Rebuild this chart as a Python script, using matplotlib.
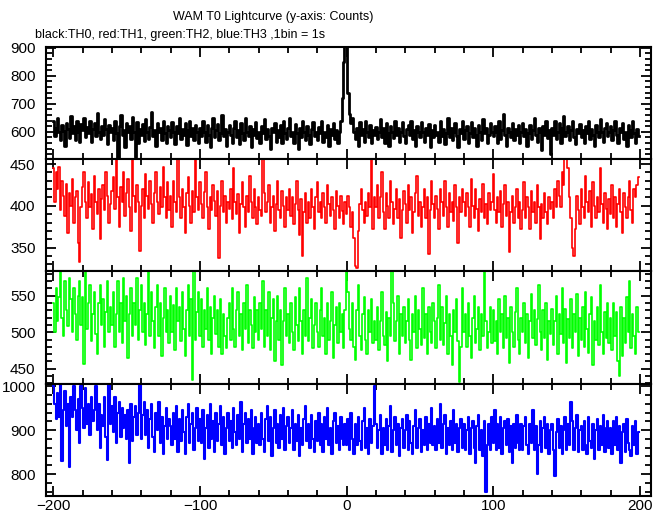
import numpy as np
import matplotlib
matplotlib.use("Agg")
import matplotlib.pyplot as plt
from matplotlib.ticker import MultipleLocator

plt.rcParams['font.family'] = ['Liberation Sans', 'DejaVu Sans']

# time bins (1 bin = 1 s)
time = np.arange(-200, 200)

# TH0 (black)
th0 = [
    640, 585, 612, 650, 598, 570, 625, 603, 548, 632, 610, 578, 655, 596, 620, 572, 640, 600, 565, 628,
    605, 650, 580, 618, 595, 640, 562, 610, 632, 585, 668, 600, 575, 622, 590, 645, 610, 558, 625, 598,
    615, 572, 640, 595, 508, 620, 660, 588, 605, 545, 630, 598, 620, 575, 652, 600, 510, 635, 560, 610,
    590, 628, 566, 645, 600, 575, 618, 670, 585, 607, 550, 632, 598, 615, 570, 640, 595, 560, 622, 605,
    580, 635, 600, 558, 620, 595, 648, 575, 610, 590, 630, 552, 605, 640, 585, 612, 570, 625, 598, 560,
    615, 585, 640, 600, 562, 625, 590, 545, 612, 650, 580, 605, 628, 570, 595, 660, 585, 610, 548, 600,
    625, 590, 560, 612, 640, 580, 605, 555, 630, 595, 572, 648, 600, 585, 620, 545, 610, 590, 635, 578,
    600, 560, 622, 595, 645, 575, 610, 585, 540, 615, 598, 630, 565, 605, 582, 625, 560, 640, 595, 575,
    612, 650, 585, 600, 560, 628, 595, 540, 615, 582, 640, 598, 570, 620, 590, 555, 610, 635, 585, 600,
    570, 618, 595, 640, 565, 600, 582, 625, 548, 610, 590, 632, 575, 605, 560, 598, 640, 720, 850, 960,
    1000, 740, 665, 630, 650, 600, 575, 615, 548, 635, 590, 610, 565, 640, 598, 580, 625, 560, 605, 590,
    618, 575, 600, 645, 580, 612, 560, 630, 595, 548, 622, 600, 578, 640, 590, 615, 565, 600, 635, 585,
    560, 610, 625, 590, 640, 575, 605, 550, 620, 598, 580, 635, 600, 565, 615, 590, 628, 545, 605, 580,
    625, 590, 600, 565, 640, 585, 610, 555, 595, 650, 580, 612, 570, 600, 630, 585, 545, 610, 595, 640,
    575, 605, 620, 560, 595, 635, 580, 612, 590, 548, 625, 600, 570, 645, 595, 612, 560, 588, 630, 600,
    585, 620, 598, 560, 640, 575, 605, 662, 590, 548, 615, 600, 580, 632, 570, 610, 590, 625, 560, 600,
    630, 585, 610, 550, 595, 625, 575, 605, 648, 590, 565, 612, 598, 535, 620, 590, 640, 578, 605, 522,
    615, 590, 640, 575, 600, 630, 560, 612, 655, 585, 598, 620, 570, 605, 640, 582, 555, 610, 595, 628,
    580, 605, 560, 622, 595, 640, 575, 610, 590, 550, 625, 600, 580, 645, 598, 565, 612, 632, 585, 600,
    620, 570, 605, 640, 588, 560, 615, 598, 630, 575, 600, 548, 625, 605, 580, 640, 595, 560, 610, 585,
]

# TH1 (red)
th1 = [
    445, 405, 440, 420, 446, 395, 430, 412, 388, 426, 368, 415, 400, 432, 380, 410, 418, 355, 333, 398,
    422, 440, 405, 385, 428, 398, 414, 372, 436, 405, 390, 420, 360, 408, 425, 395, 440, 412, 380, 402,
    418, 435, 396, 455, 410, 375, 422, 404, 440, 388, 415, 432, 398, 370, 456, 412, 392, 425, 405, 346,
    400, 420, 385, 438, 412, 396, 430, 402, 380, 415, 440, 405, 390, 422, 398, 446, 410, 385, 428, 395,
    412, 375, 430, 404, 392, 456, 410, 386, 420, 398, 368, 415, 435, 400, 380, 418, 392, 456, 410, 395,
    428, 402, 385, 416, 440, 398, 372, 410, 395, 425, 406, 388, 418, 338, 400, 430, 392, 412, 380, 405,
    396, 420, 384, 445, 405, 390, 414, 368, 402, 428, 398, 375, 412, 392, 436, 404, 385, 420, 398, 378,
    410, 395, 388, 456, 415, 392, 405, 425, 380, 398, 412, 370, 402, 430, 395, 385, 418, 400, 375, 410,
    395, 420, 388, 410, 378, 402, 430, 395, 365, 408, 340, 392, 415, 380, 404, 386, 420, 398, 372, 410,
    428, 392, 405, 385, 415, 398, 380, 425, 402, 388, 410, 395, 372, 418, 400, 385, 412, 394, 378, 405,
    390, 412, 398, 375, 392, 362, 328, 325, 370, 402, 420, 395, 380, 405, 388, 415, 398, 456, 372, 410,
    398, 425, 385, 410, 440, 392, 372, 415, 400, 386, 430, 404, 378, 396, 420, 385, 408, 362, 395, 418,
    402, 380, 425, 395, 410, 368, 392, 415, 436, 388, 405, 375, 398, 420, 386, 410, 342, 395, 430, 402,
    385, 412, 396, 372, 420, 405, 388, 430, 398, 375, 415, 392, 405, 382, 425, 398, 356, 410, 392, 420,
    405, 388, 415, 398, 375, 432, 400, 385, 420, 396, 370, 408, 392, 426, 385, 402, 378, 415, 395, 405,
    438, 395, 380, 410, 392, 418, 375, 402, 425, 388, 405, 345, 392, 412, 380, 398, 420, 385, 405, 372,
    395, 428, 386, 410, 398, 372, 418, 392, 405, 380, 425, 398, 360, 402, 385, 415, 392, 378, 410, 396,
    405, 385, 420, 398, 430, 412, 398, 440, 425, 456, 456, 445, 410, 385, 350, 340, 372, 412, 395, 378,
    420, 398, 385, 436, 405, 392, 418, 375, 428, 400, 385, 410, 392, 445, 402, 380, 415, 396, 372, 408,
    390, 425, 385, 410, 375, 402, 420, 392, 368, 415, 398, 385, 410, 430, 395, 380, 420, 410, 425, 435,
]

# TH2 (green)
th2 = [
    540, 500, 560, 515, 548, 584, 520, 495, 570, 530, 508, 575, 545, 500, 560, 525, 490, 550, 570, 510,
    548, 456, 584, 505, 540, 565, 488, 525, 555, 498, 470, 540, 565, 510, 545, 480, 528, 570, 500, 535,
    510, 555, 480, 525, 570, 500, 540, 485, 575, 515, 550, 465, 525, 560, 495, 540, 510, 575, 490, 530,
    565, 500, 540, 482, 525, 584, 495, 555, 515, 478, 535, 565, 495, 540, 468, 520, 560, 500, 530, 485,
    550, 500, 538, 475, 560, 515, 535, 488, 555, 505, 468, 530, 565, 495, 545, 435, 584, 490, 528, 555,
    495, 545, 480, 530, 505, 560, 490, 535, 470, 520, 550, 498, 530, 480, 545, 470, 525, 495, 478, 520,
    540, 490, 560, 505, 480, 530, 555, 495, 525, 475, 540, 505, 565, 485, 530, 510, 478, 548, 500, 530,
    490, 540, 505, 570, 480, 530, 495, 555, 475, 520, 545, 460, 515, 550, 490, 530, 455, 515, 560, 495,
    525, 485, 540, 500, 475, 548, 510, 488, 560, 515, 470, 530, 495, 575, 488, 520, 545, 478, 510, 540,
    500, 480, 530, 560, 495, 520, 470, 540, 490, 515, 555, 465, 510, 535, 485, 540, 500, 525, 478, 530,
    584, 555, 505, 490, 540, 480, 462, 530, 565, 495, 475, 525, 548, 490, 470, 530, 500, 545, 485, 515,
    490, 535, 475, 515, 555, 495, 482, 528, 460, 520, 495, 584, 540, 488, 515, 550, 470, 525, 495, 535,
    485, 515, 545, 490, 462, 525, 500, 550, 478, 530, 505, 482, 560, 492, 525, 470, 535, 500, 485, 540,
    515, 478, 520, 565, 490, 535, 482, 512, 550, 470, 525, 495, 455, 530, 500, 545, 488, 432, 480, 560,
    500, 525, 480, 540, 495, 465, 520, 550, 485, 505, 535, 475, 525, 495, 584, 515, 478, 500, 535, 485,
    530, 488, 515, 470, 545, 500, 525, 478, 550, 492, 520, 458, 535, 500, 480, 528, 560, 490, 470, 520,
    500, 540, 485, 525, 465, 515, 552, 492, 530, 482, 518, 565, 500, 475, 530, 492, 540, 462, 515, 498,
    532, 482, 515, 550, 470, 525, 498, 560, 485, 532, 458, 518, 492, 545, 478, 525, 500, 552, 468, 520,
    490, 535, 480, 555, 505, 472, 525, 548, 455, 515, 490, 535, 482, 565, 500, 470, 528, 492, 540, 485,
    520, 475, 540, 495, 528, 460, 440, 535, 468, 520, 485, 548, 500, 570, 478, 525, 495, 470, 535, 500,
]

# TH3 (blue)
th3 = [
    1000, 960, 925, 985, 930, 1003, 830, 945, 990, 910, 960, 815, 975, 930, 1000, 945, 900, 970, 870, 1000,
    950, 905, 995, 915, 960, 890, 975, 920, 945, 1000, 900, 960, 860, 935, 910, 975, 885, 832, 1003, 915,
    955, 895, 975, 870, 940, 965, 885, 950, 905, 935, 880, 945, 825, 960, 875, 930, 955, 890, 940, 1003,
    880, 935, 965, 890, 945, 860, 925, 960, 885, 850, 940, 900, 965, 870, 930, 845, 910, 950, 880, 925,
    910, 865, 940, 880, 955, 850, 925, 875, 945, 895, 845, 930, 960, 870, 915, 940, 855, 905, 950, 875,
    925, 870, 945, 835, 905, 935, 860, 960, 880, 920, 850, 940, 875, 915, 955, 865, 930, 845, 905, 940,
    875, 920, 860, 950, 895, 865, 935, 880, 965, 850, 915, 940, 870, 925, 880, 945, 845, 905, 930, 870,
    915, 865, 940, 880, 850, 925, 955, 875, 930, 840, 905, 945, 870, 915, 860, 935, 880, 950, 855, 910,
    930, 870, 905, 945, 855, 915, 875, 935, 840, 905, 865, 925, 955, 875, 915, 860, 935, 880, 850, 920,
    875, 940, 865, 915, 850, 930, 880, 950, 865, 905, 845, 920, 940, 870, 910, 855, 930, 880, 865, 915,
    865, 925, 855, 940, 880, 845, 915, 865, 930, 875, 855, 920, 950, 860, 905, 845, 925, 870, 910, 1000,
    915, 860, 900, 935, 845, 905, 865, 925, 855, 910, 955, 850, 900, 930, 865, 915, 840, 905, 925, 860,
    900, 935, 855, 920, 870, 845, 910, 945, 860, 905, 925, 850, 900, 865, 930, 855, 915, 870, 950, 865,
    910, 855, 925, 870, 960, 860, 915, 935, 845, 905, 865, 920, 855, 945, 870, 915, 850, 905, 925, 860,
    915, 855, 900, 930, 845, 905, 920, 860, 825, 910, 935, 855, 900, 840, 920, 760, 865, 915, 855, 930,
    870, 945, 855, 915, 860, 930, 845, 905, 920, 865, 925, 850, 910, 825, 915, 860, 935, 870, 855, 915,
    855, 910, 930, 865, 845, 915, 870, 945, 855, 910, 800, 865, 920, 850, 905, 930, 860, 915, 845, 900,
    915, 855, 795, 895, 925, 860, 910, 845, 900, 930, 855, 915, 865, 965, 920, 855, 905, 935, 850, 900,
    910, 855, 920, 865, 845, 930, 875, 860, 915, 835, 900, 925, 855, 910, 865, 935, 850, 905, 920, 860,
    905, 845, 920, 865, 930, 855, 910, 825, 895, 915, 850, 925, 870, 855, 840, 910, 865, 920, 845, 895,
]

series = [th0, th1, th2, th3]
colors = ['black', '#ff0000', '#00ff00', '#0000ff']
widths = [2.0, 1.2, 1.2, 1.5]
ylims = [(503, 903), (322, 456), (429, 584), (750, 1005)]
ymajor = [100, 50, 50, 100]
yminor = [20, 10, 10, 20]

fig = plt.figure(figsize=(6.69, 5.15), dpi=100)
left, right = 46 / 669, 651 / 669
edges = [47, 159, 271, 384, 496]

axes = []
for i in range(4):
    top = 1 - edges[i] / 515
    bot = 1 - edges[i + 1] / 515
    ax = fig.add_axes([left, bot, right - left, top - bot])
    axes.append(ax)
    ax.plot(time, series[i], drawstyle='steps-mid', color=colors[i], lw=widths[i])
    ax.set_xlim(-205, 207.5)
    ax.set_ylim(*ylims[i])
    ax.yaxis.set_major_locator(MultipleLocator(ymajor[i]))
    ax.yaxis.set_minor_locator(MultipleLocator(yminor[i]))
    ax.xaxis.set_major_locator(MultipleLocator(100))
    ax.xaxis.set_minor_locator(MultipleLocator(20))
    ax.tick_params(which='both', direction='in', top=True, right=True, width=1.3)
    ax.tick_params(which='major', length=7, labelsize=11, pad=7.5)
    ax.tick_params(which='minor', length=4)
    ax.tick_params(axis='x', which='major', pad=2)
    for s in ax.spines.values():
        s.set_linewidth(1.5)
    if i < 3:
        ax.tick_params(labelbottom=False)

fig.text(273 / 669, 1 - 17 / 515, 'WAM T0 Lightcurve (y-axis: Counts)',
         ha='center', va='center', fontsize=9)
fig.text(35 / 669, 1 - 35 / 515, 'black:TH0, red:TH1, green:TH2, blue:TH3 ,1bin = 1s',
         ha='left', va='center', fontsize=9)

fig.savefig('out.png', dpi=100)
